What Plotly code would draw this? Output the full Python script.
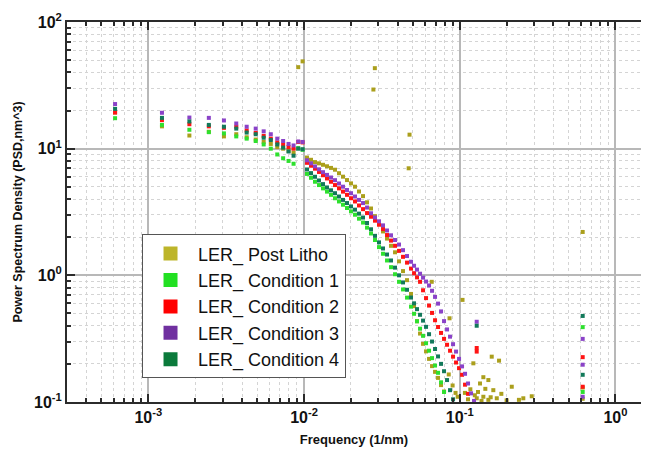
import plotly.graph_objects as go

# ---------------- data ----------------
f_low = [0.000612, 0.001224, 0.001836, 0.002448, 0.00306, 0.003672, 0.004284, 0.004896,
         0.005508, 0.00612, 0.006732, 0.007344, 0.007956, 0.008568, 0.00918, 0.009792]

f_main = [0.010454, 0.011090, 0.011766, 0.012483, 0.013244, 0.014051, 0.014908, 0.015816,
          0.016780, 0.017803, 0.018888, 0.020039, 0.021260, 0.022556, 0.023931, 0.025389,
          0.026937, 0.028576, 0.030318, 0.032166, 0.034126, 0.036206, 0.038413, 0.040754,
          0.043237, 0.045872, 0.048668, 0.050877, 0.053183, 0.055597, 0.058119, 0.060755,
          0.063512, 0.066394, 0.069406, 0.072555, 0.075847, 0.079288, 0.082884, 0.086644,
          0.090575, 0.094685, 0.098981, 0.10347, 0.10816, 0.11307, 0.11820, 0.12356]

post_litho_low = [19.3, 15.0, 12.7, 13.6, 12.5, 13.0, 12.3, 11.8, 11.3, 10.9, 10.3, 10.0, 9.6, 9.3, 44.0, 48.9]
post_litho_main = [8.51, 8.17, 7.83, 7.66, 7.46, 7.26, 7.05, 6.82, 6.40, 6.01, 5.65, 5.32, 5.01, 4.59,
                   4.22, 3.77, 3.37, 2.93, 2.54, 2.22, 1.95, 1.71, 1.52, 1.29, 1.08, 0.916, 0.713,
                   0.571, 0.434, 0.347, 0.288, 0.251, 0.219, 0.192, 0.173, 0.155, 0.136, 0.121]
post_litho_fx = [0.0279, 0.0285, 0.0470, 0.0476, 0.0661, 0.0860, 0.1042, 0.1223, 0.135, 0.1527,
                 0.1643, 0.1418, 0.1286, 0.1527, 0.1729, 0.1605, 0.1788, 0.2158, 0.290, 0.256,
                 0.1418, 0.108, 0.113, 0.117, 0.125, 0.131, 0.138, 0.146, 0.158, 0.185,
                 0.200, 0.240, 0.085, 0.090, 0.094, 0.097, 0.616, 0.616, 0.616]
post_litho_fy = [29.3, 43.2, 7.0, 12.9, 0.889, 0.458, 0.640, 0.202, 0.140, 0.149,
                 0.124, 0.110, 0.107, 0.104, 0.107, 0.228, 0.212, 0.132, 0.111, 0.107,
                 0.157, 0.118, 0.105, 0.126, 0.113, 0.120, 0.102, 0.127, 0.109, 0.116,
                 0.103, 0.104, 0.165, 0.135, 0.118, 0.110, 2.2, 0.13, 0.106]

cond1_low = [17.4, 15.4, 14.1, 13.5, 13.2, 12.5, 12.0, 11.5, 10.8, 10.0, 9.0, 8.4, 8.0, 7.6, 10.1, 9.8]
cond1_main = [6.32, 5.89, 5.48, 5.16, 4.86, 4.58, 4.32, 4.06, 3.83, 3.61, 3.40, 3.20, 3.01, 2.80,
              2.61, 2.38, 2.14, 1.90, 1.67, 1.48, 1.31, 1.16, 1.02, 0.889, 0.774, 0.667, 0.566,
              0.497, 0.434, 0.379, 0.333, 0.291, 0.254, 0.222, 0.194, 0.170, 0.143, 0.120]
cond1_fx = [0.616, 0.616]
cond1_fy = [0.39, 0.12]

cond2_low = [19.3, 16.8, 15.6, 15.0, 14.6, 14.9, 13.9, 13.3, 12.6, 12.0, 11.2, 10.8, 10.3, 10.0, 11.3, 11.2]
cond2_main = [7.73, 7.33, 6.95, 6.55, 6.17, 5.82, 5.48, 5.16, 4.86, 4.58, 4.32, 4.06, 3.83, 3.56,
              3.33, 3.10, 2.90, 2.70, 2.51, 2.32, 2.08, 1.88, 1.71, 1.56, 1.40, 1.26, 1.13,
              1.04, 0.964, 0.889, 0.762, 0.661, 0.577, 0.505, 0.442, 0.391, 0.351, 0.315,
              0.283, 0.254, 0.228, 0.205, 0.185, 0.164, 0.137, 0.116]
cond2_fx = [0.1285, 0.1285, 0.616, 0.616]
cond2_fy = [0.267, 0.25, 0.226, 0.132]

cond3_low = [22.5, 19.2, 17.6, 17.5, 16.7, 15.8, 14.9, 14.4, 13.7, 13.0, 12.0, 11.5, 10.9, 10.6, 11.4, 11.3]
cond3_main = [8.09, 7.66, 7.24, 6.87, 6.52, 6.21, 5.92, 5.64, 5.31, 5.01, 4.72, 4.45, 4.19, 3.94,
              3.72, 3.43, 3.09, 2.86, 2.67, 2.48, 2.26, 2.07, 1.90, 1.75, 1.58, 1.42, 1.28,
              1.19, 1.11, 1.03, 0.959, 0.893, 0.832, 0.755, 0.676, 0.598, 0.519, 0.435,
              0.374, 0.328, 0.286, 0.250, 0.219, 0.191, 0.167, 0.140, 0.117, 0.102]
cond3_fx = [0.1285, 0.616, 0.616, 0.616]
cond3_fy = [0.43, 0.315, 0.197, 0.11]

cond4_low = [20.6, 17.5, 16.4, 15.4, 14.9, 14.4, 13.4, 13.0, 12.2, 11.7, 10.8, 10.2, 9.5, 8.8, 10.0, 9.9]
cond4_main = [6.85, 6.41, 6.00, 5.61, 5.25, 4.94, 4.69, 4.45, 4.19, 3.94, 3.72, 3.50, 3.30, 3.07,
              2.86, 2.59, 2.31, 2.05, 1.82, 1.63, 1.46, 1.31, 1.15, 1.00, 0.879, 0.769, 0.668,
              0.601, 0.541, 0.488, 0.439, 0.392, 0.343, 0.300, 0.262, 0.229, 0.200, 0.175,
              0.149, 0.124, 0.105]
cond4_fx = [0.1285, 0.616, 0.616]
cond4_fy = [0.40, 0.478, 0.164]

names = ["LER_ Post Litho", "LER_ Condition 1", "LER_ Condition 2",
         "LER_ Condition 3", "LER_ Condition 4"]
colors = ["#ab9f1c", "#2ee02e", "#ff1414", "#8a42c8", "#12795a"]
legend_colors = ["#bdb52a", "#22e022", "#ff0000", "#7030a0", "#0b7a3b"]

x_tick_vals = [0.001, 0.01, 0.1, 1]
x_tick_text = ["<b>10<sup>-3</sup></b>", "<b>10<sup>-2</sup></b>",
               "<b>10<sup>-1</sup></b>", "<b>10<sup>0</sup></b>"]
y_tick_vals = [0.1, 1, 10, 100]
y_tick_text = ["<b>10<sup>-1</sup></b>", "<b>10<sup>0</sup></b>",
               "<b>10<sup>1</sup></b>", "<b>10<sup>2</sup></b>"]

series = [
    (post_litho_low, post_litho_main, post_litho_fx, post_litho_fy),
    (cond1_low, cond1_main, cond1_fx, cond1_fy),
    (cond2_low, cond2_main, cond2_fx, cond2_fy),
    (cond3_low, cond3_main, cond3_fx, cond3_fy),
    (cond4_low, cond4_main, cond4_fx, cond4_fy),
]

FONT = "Liberation Sans, Arial, sans-serif"

fig = go.Figure()
for (low, main, fx, fy), name, col in zip(series, names, colors):
    xs = f_low + f_main[:len(main)] + fx
    ys = low + main + fy
    fig.add_trace(go.Scatter(x=xs, y=ys, mode="markers", name=name, showlegend=False,
                             marker=dict(symbol="square", size=4, color=col, line=dict(width=0))))

for i, (name, col) in enumerate(zip(names, legend_colors)):
    fig.add_trace(go.Scatter(x=[None], y=[None], mode="markers", name=name,
                             showlegend=True,
                             marker=dict(symbol="square", size=14, color=col, line=dict(width=0))))

minor_x = [m * 10.0 ** e for e in range(-4, 1) for m in range(2, 10)]
minor_y = [m * 10.0 ** e for e in range(-1, 2) for m in range(2, 10)]

axis_common = dict(
    type="log", showline=True, linecolor="#2b2b2b", linewidth=2,
    ticks="inside", ticklen=8, tickwidth=1.5, tickcolor="#2b2b2b",
    showgrid=True, gridcolor="#b8b8b8", gridwidth=1.5, zeroline=False,
    tickfont=dict(family=FONT, size=16, color="#111"),
)

fig.update_xaxes(
    **axis_common, range=[-3.522, 0.164], mirror="ticks",
    tickvals=x_tick_vals, ticktext=x_tick_text,
    minor=dict(tickvals=minor_x, ticks="inside", ticklen=4, tickcolor="#2b2b2b",
               showgrid=True, gridcolor="#d4d4d4", griddash="dot", gridwidth=1),
    title=dict(text="<b>Frequency (1/nm)</b>", standoff=10,
               font=dict(family=FONT, size=13, color="#111")),
)
fig.update_yaxes(
    **axis_common, range=[-1, 2], mirror=False,
    tickvals=y_tick_vals, ticktext=y_tick_text,
    minor=dict(tickvals=minor_y, ticks="inside", ticklen=4, tickcolor="#2b2b2b",
               showgrid=True, gridcolor="#d4d4d4", griddash="dot", gridwidth=1),
    title=dict(text="<b>Power Spectrum Density (PSD,nm^3)</b>", standoff=9,
               font=dict(family=FONT, size=12.5, color="#111")),
)

fig.update_layout(
    width=652, height=458,
    margin=dict(l=67, r=11, t=16, b=56),
    plot_bgcolor="white", paper_bgcolor="white",
    legend=dict(x=0.1307, y=0.441, xanchor="left", yanchor="top",
                bgcolor="white", bordercolor="#555", borderwidth=1,
                font=dict(family=FONT, size=18, color="#111"),
                tracegroupgap=0, itemwidth=45, itemsizing="trace"),
)

fig.write_html("out.html")
